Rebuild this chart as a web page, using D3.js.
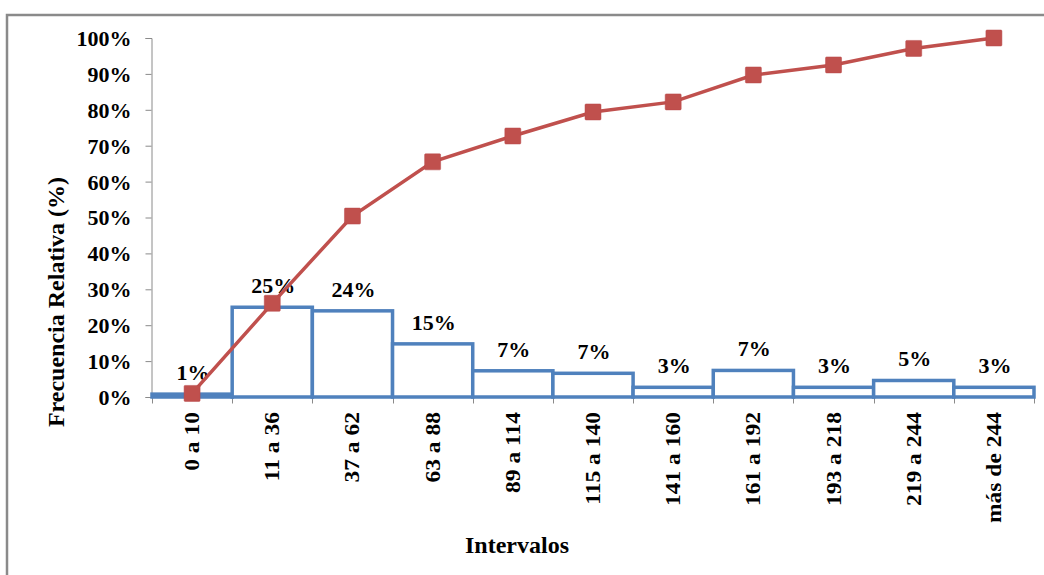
<!DOCTYPE html>
<html>
<head>
<meta charset="utf-8">
<script src="https://cdn.jsdelivr.net/npm/d3@7"></script>
<style>
  html, body { margin: 0; padding: 0; background: #ffffff; }
  svg { display: block; }
</style>
</head>
<body>
<svg id="chart" width="1044" height="575"></svg>
<script>
// Class intervals
const categories = ["0 a 10", "11 a 36", "37 a 62", "63 a 88", "89 a 114", "115 a 140",
                    "141 a 160", "161 a 192", "193 a 218", "219 a 244", "más de 244"];
// Relative frequency of each interval (%)
const relativeFreq = [0.8, 25.0, 24.0, 14.8, 7.3, 6.6, 2.7, 7.4, 2.7, 4.6, 2.7];
// Cumulative relative frequency (%)
const cumulativeFreq = [1.0, 26.1, 50.4, 65.5, 72.7, 79.4, 82.2, 89.7, 92.5, 97.1, 100];
// Y axis ticks (%)
const yTicks = [0, 10, 20, 30, 40, 50, 60, 70, 80, 90, 100];

const styleText = (sel, size) => sel
  .style("font-family", "'Liberation Serif'")
  .style("font-weight", "bold")
  .style("font-size", size + "px")
  .style("fill", "#000");

const svg = d3.select("#chart");

// Outer frame
svg.append("rect")
  .attr("x", 7).attr("y", 15)
  .attr("width", 1100).attr("height", 600)
  .attr("fill", "#fff")
  .attr("stroke", "#8a8a8a")
  .attr("stroke-width", 2.5);

const x = d3.scaleBand().domain(categories).range([152, 1034]).padding(0);
const y = d3.scaleLinear().domain([0, 100]).range([397, 38]);

const axisColor = "#8a8a8a";

// Y axis
const yAxis = svg.append("g")
  .attr("transform", "translate(151.5,0)")
  .call(d3.axisLeft(y).tickValues(yTicks).tickSize(6).tickPadding(14)
        .tickFormat(d => d + "%"));
yAxis.attr("font-family", null).attr("font-size", null);
yAxis.select(".domain").attr("stroke", axisColor);
yAxis.selectAll(".tick line").attr("stroke", axisColor);
styleText(yAxis.selectAll(".tick text"), 22).attr("dy", "0.34em");

// X axis: baseline with ticks at interval boundaries
const xAxisG = svg.append("g").attr("transform", "translate(0,397.5)");
xAxisG.append("line")
  .attr("x1", x.range()[0]).attr("x2", x.range()[1])
  .attr("stroke", axisColor);
const boundaries = categories.map(c => x(c)).concat([x.range()[1]]);
xAxisG.selectAll("line.tick")
  .data(boundaries)
  .join("line")
  .attr("class", "tick")
  .attr("x1", d => Math.round(d) + 0.5).attr("x2", d => Math.round(d) + 0.5)
  .attr("y1", 0).attr("y2", 6)
  .attr("stroke", axisColor);

// Category labels, rotated and slightly stretched along their length
styleText(svg.append("g").selectAll("text")
  .data(categories)
  .join("text")
  .attr("transform", d => `translate(${x(d) + x.bandwidth() / 2 + 7},412) rotate(-90) scale(1.12,1)`)
  .attr("text-anchor", "end")
  .text(d => d), 21);

// Histogram bars
svg.append("g").selectAll("rect")
  .data(relativeFreq)
  .join("rect")
  .attr("x", (d, i) => x(categories[i]))
  .attr("y", d => y(d))
  .attr("width", x.bandwidth())
  .attr("height", d => y(0) - y(d))
  .attr("fill", "#fff")
  .attr("stroke", "#4f81bd")
  .attr("stroke-width", 3.5);

// Bar value labels
styleText(svg.append("g").selectAll("text")
  .data(relativeFreq)
  .join("text")
  .attr("x", (d, i) => x(categories[i]) + x.bandwidth() / 2 + 1)
  .attr("y", d => y(d) - 14)
  .attr("text-anchor", "middle")
  .text(d => Math.round(d) + "%"), 22);

// Cumulative line
const line = d3.line()
  .x((d, i) => x(categories[i]) + x.bandwidth() / 2)
  .y(d => y(d));
svg.append("path")
  .datum(cumulativeFreq)
  .attr("d", line)
  .attr("fill", "none")
  .attr("stroke", "#c0504d")
  .attr("stroke-width", 3.5);

const m = 16;
svg.append("g").selectAll("rect")
  .data(cumulativeFreq)
  .join("rect")
  .attr("x", (d, i) => x(categories[i]) + x.bandwidth() / 2 - m / 2)
  .attr("y", d => y(d) - m / 2)
  .attr("width", m).attr("height", m)
  .attr("rx", 1)
  .attr("fill", "#c0504d")
  .attr("stroke", "#b9494a")
  .attr("stroke-width", 0.5);

// Axis titles
styleText(svg.append("text")
  .attr("transform", "translate(64,302) rotate(-90)")
  .attr("text-anchor", "middle")
  .text("Frecuencia Relativa (%)"), 24);

styleText(svg.append("text")
  .attr("x", 517).attr("y", 553)
  .attr("text-anchor", "middle")
  .text("Intervalos"), 24);
</script>
</body>
</html>
